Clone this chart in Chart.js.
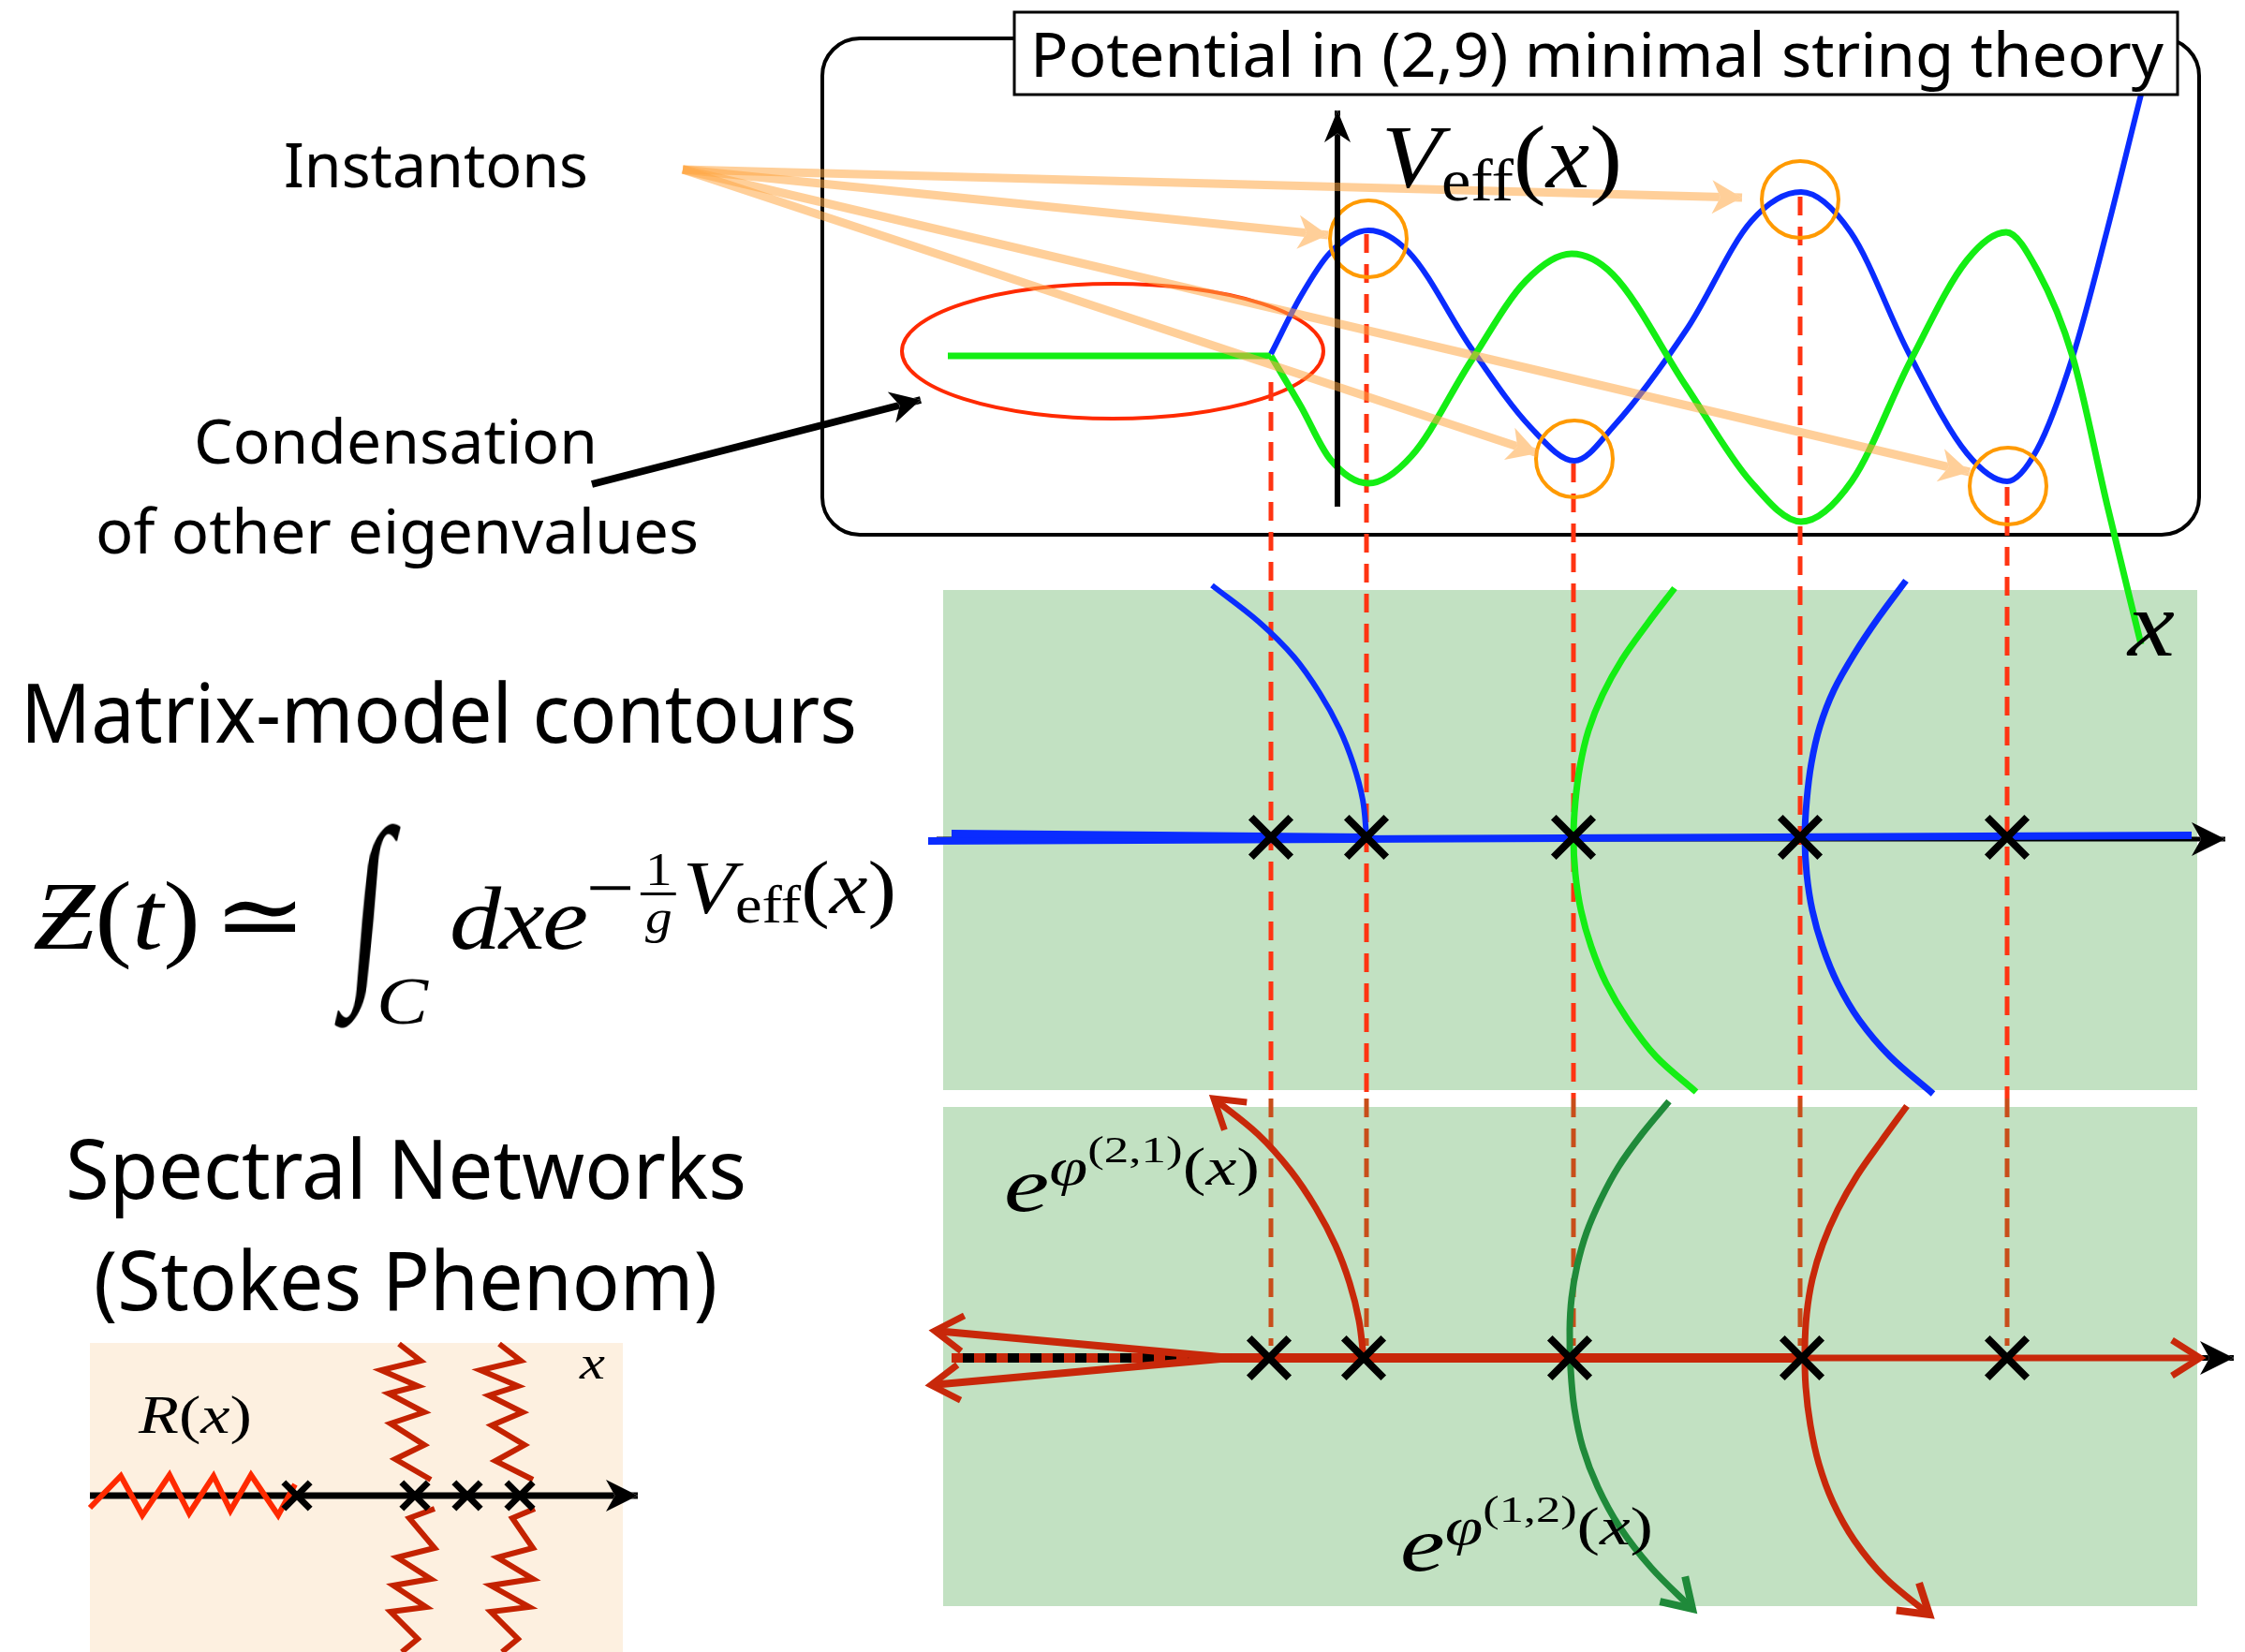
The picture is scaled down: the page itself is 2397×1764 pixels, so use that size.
<!DOCTYPE html>
<html>
<head>
<meta charset="utf-8">
<script src="https://cdn.jsdelivr.net/npm/chart.js@4/dist/chart.umd.min.js"></script>
<style>
html,body{margin:0;padding:0;background:#fff;}
#wrap{position:relative;width:2397px;height:1764px;overflow:hidden;background:#fff;}
#c{position:absolute;left:0;top:0;}
.lbl{position:absolute;top:0;white-space:nowrap;line-height:1;transform-origin:0 0;color:#000;}
.sans{font-family:"Noto Sans","DejaVu Sans",sans-serif;}
.math{font-family:"Liberation Serif","DejaVu Serif",serif;}
.it{font-style:italic;}
.mk{display:inline-block;width:0;height:0;vertical-align:baseline;}
.frac{display:inline-flex;flex-direction:column;align-items:center;line-height:0.95;margin:0 6px;}
.frac .num{border-bottom:3px solid #000;padding:0 4px;}
.intg{display:inline-block;transform-origin:50% 65%;}
</style>
</head>
<body>
<div id="wrap"><canvas id="c" width="2397" height="1764"></canvas></div>
<script>
// ================= DATA (diagram units = reference pixels, y grows downward) =================
// eigenvalue saddles (positions along the real x axis)
const saddleX      = [1357, 1459, 1680, 1922, 2143];
const guideTopY    = [408, 250, 495, 210, 520];     // where each dashed guide leaves V_eff
const guideSplitY  = 1173;
const guideEndY    = 1437;

// effective potential panel
const greenFlat       = [[1012,380],[1357,380]];
const bluePotential   = [[1357,378],[1389,316],[1420,270],[1461,246],[1504,269],[1571,372],[1634,456],[1681,492],[1723,455],[1802,350],[1870,236],[1923,205],[1976,248],[2038,377],[2100,484],[2143,514],[2175,480],[2213,381],[2250,245],[2286,101],[2298,55]];
const greenPotential  = [[1357,380],[1389,434],[1420,490],[1461,516],[1507,487],[1571,385],[1629,300],[1678,271],[1722,293],[1800,412],[1869,514],[1923,557],[1977,514],[2040,385],[2100,278],[2142,248],[2175,288],[2213,381],[2250,540],[2286,688]];
const instantonCircles = [[1461,255],[1681,490],[1922,213],[2144,519]];
const instantonSource  = [729,181];
const instantonTips    = [[1860,211],[1418,251],[1642,484],[2103,504]];
const condensationArrow = [[632,517],[983,427]];
const vAxis            = [[1428,541],[1428,118]];
const eigenCloud       = [1188,375,225,72];          // ellipse: cx, cy, rx, ry
const potFrame         = [878,41,2348,571];
const titleFrame       = [1083,13,2325,101];

// matrix-model contour panel
const contourPanel     = [[1007,630],[2346,630]];  const contourPanelBottom = 1164;
const contourAxis      = [[1000,896],[2376,896]];
const contourBlueAxis  = [[991,898],[2340,892]];
const contourBlueAxisL = [[1016,890],[1459,894]];
const contourBlueLeft  = [[1459,892],[1455,854],[1445,816],[1430,778],[1409,740],[1382,702],[1344,664],[1294,625]];
const contourGreen     = [[1788,628],[1759,666],[1732,704],[1711,742],[1696,780],[1687,818],[1682,856],[1680,894],[1682,933],[1688,972],[1699,1011],[1715,1050],[1738,1089],[1768,1128],[1811,1166]];
const contourBlueRight = [[2035,620],[2006,659],[1980,698],[1958,737],[1943,776],[1934,815],[1929,855],[1927,894],[1929,933],[1935,972],[1946,1011],[1962,1050],[1985,1089],[2018,1128],[2064,1168]];
const contourCrossY    = 894;

// spectral network panel
const stokesPanel      = [[1007,1182],[2346,1182]];  const stokesPanelBottom = 1715;
const stokesAxis       = [[1016,1450],[2385,1450]];
const stokesCut        = [[1016,1450],[1314,1450]];
const stokesRedA       = [[1314,1450],[1924,1450]];
const stokesRedB       = [[1924,1450],[2349,1450]];
const stokesWedgeUp    = [[1314,1450],[998,1421]];
const stokesWedgeDown  = [[1314,1450],[994,1479]];
const stokesRed21      = [[1456,1450],[1451,1410],[1441,1370],[1426,1330],[1405,1290],[1378,1250],[1343,1211],[1296,1173]];
const stokesGreen12    = [[1782,1176],[1753,1211],[1728,1246],[1709,1281],[1694,1316],[1684,1351],[1678,1386],[1676,1420],[1677,1462],[1681,1504],[1690,1546],[1706,1588],[1729,1630],[1763,1674],[1807,1718]];
const stokesRedRight   = [[2036,1181],[2009,1218],[1983,1255],[1962,1292],[1946,1329],[1935,1366],[1929,1403],[1927,1440],[1928,1481],[1933,1522],[1942,1563],[1957,1604],[1980,1645],[2013,1685],[2060,1724]];
const stokesCrossX     = [1355, 1456, 1676, 1924, 2143];
const stokesCrossY     = 1450;

// resolvent panel R(x)
const rPanel           = [[96,1434],[665,1434]];  const rPanelBottom = 1764;
const rAxis            = [[96,1597],[681,1597]];
const rZigzag          = [[96,1610],[129,1576],[152,1618],[181,1575],[202,1616],[228,1576],[246,1613],[268,1575],[297,1618],[315,1585]];
const rCut1Up          = [[426,1435],[449,1453],[407,1463],[446,1480],[415,1488],[453,1508],[417,1520],[453,1543],[422,1558],[460,1580]];
const rCut1Down        = [[464,1611],[437,1621],[464,1653],[424,1663],[460,1686],[420,1693],[455,1716],[417,1721],[446,1750],[429,1764]];
const rCut2Up          = [[533,1435],[556,1453],[513,1463],[553,1480],[522,1490],[558,1508],[525,1522],[560,1543],[529,1560],[569,1580]];
const rCut2Down        = [[571,1611],[547,1621],[569,1653],[531,1663],[569,1686],[524,1693],[565,1716],[524,1721],[553,1750],[536,1764]];
const rCrossX          = [317, 443, 499, 555];
const rCrossY          = 1597;

// ================= colours =================
const C = {
  blue:'#0a2cff', green:'#14ee14', orange:'#ff9a00', red:'#ff2a00', guide:'#ff3412', guideDark:'#c84e1a',
  panel:'#c2e1c2', beige:'#fdf0e0', dred:'#c8280a', dgreen:'#1f8a3a', zig:'#c42200',
  instanton:'rgba(255,168,70,0.55)'
};

// ================= dataset helpers =================
const P = a => a.map(([x,y]) => ({x, y}));
function line(data, color, width, extra) {
  return Object.assign({type:'line', data:P(data), borderColor:color, borderWidth:width, pointRadius:0,
    fill:false, tension:0, borderCapStyle:'butt', borderJoinStyle:'round', clip:false}, extra || {});
}
function rect(topEdge, bottom, color) {
  return {type:'line', data:P(topEdge), borderColor:'rgba(0,0,0,0)', borderWidth:0, pointRadius:0,
    backgroundColor:color, fill:{value:bottom}, tension:0, clip:false};
}
function marks(xs, y, r, w, color) {
  return {type:'line', showLine:false, data:xs.map(x => ({x, y})), pointStyle:'crossRot', pointRadius:r,
    pointBorderWidth:w, pointBorderColor:color || '#000', pointBackgroundColor:'rgba(0,0,0,0)', clip:false};
}

const datasets = [];
// panels
datasets.push(rect(contourPanel, contourPanelBottom, C.panel));
datasets.push(rect(stokesPanel, stokesPanelBottom, C.panel));
datasets.push(rect(rPanel, rPanelBottom, C.beige));
// dashed guides
saddleX.forEach((x, i) => {
  datasets.push(line([[x, guideTopY[i]], [x, guideSplitY]], C.guide, 5, {borderDash:[20,12]}));
  datasets.push(line([[x, guideSplitY], [x, guideEndY]], C.guideDark, 5, {borderDash:[20,12]}));
});
// potential
datasets.push(line(greenFlat, C.green, 7));
datasets.push(line(bluePotential, C.blue, 6, {cubicInterpolationMode:'monotone'}));
datasets.push(line(greenPotential, C.green, 7, {cubicInterpolationMode:'monotone'}));
datasets.push({type:'line', showLine:false, data:P(instantonCircles), pointStyle:'circle', pointRadius:41,
  pointBorderWidth:4, pointBorderColor:C.orange, pointBackgroundColor:'rgba(0,0,0,0)', clip:false});
datasets.push(line(vAxis, '#000', 6, {head:'stealth', headLen:34, headHalf:14}));
instantonTips.forEach(t => datasets.push(line([instantonSource, t], C.instanton, 9,
  {head:'stealth', headLen:32, headHalf:18})));
datasets.push(line(condensationArrow, '#000', 8, {head:'stealth', headLen:32, headHalf:17}));
// contour panel
datasets.push(line(contourBlueLeft, C.blue, 6, {tension:0.35}));
datasets.push(line(contourGreen, C.green, 7, {tension:0.35}));
datasets.push(line(contourBlueRight, C.blue, 7, {tension:0.35}));
datasets.push(line(contourAxis, '#000', 5, {head:'stealth', headLen:36, headHalf:18}));
datasets.push(line(contourBlueAxis, C.blue, 8));
datasets.push(line(contourBlueAxisL, C.blue, 8));
datasets.push(marks(saddleX, contourCrossY, 30, 8));
// spectral network panel
datasets.push(line(stokesAxis, '#000', 6, {head:'stealth', headLen:36, headHalf:18}));
datasets.push(line(stokesCut, '#000', 10));
datasets.push(line(stokesCut, C.dred, 10, {borderDash:[12,12]}));
datasets.push(line(stokesRedA, C.dred, 10));
datasets.push(line(stokesRedB, C.dred, 7, {head:'open', headLen:30, headHalf:19, headWidth:7}));
datasets.push(line(stokesWedgeUp, C.dred, 8, {head:'open', headLen:30, headHalf:19, headWidth:7}));
datasets.push(line(stokesWedgeDown, C.dred, 8, {head:'open', headLen:30, headHalf:19, headWidth:7}));
datasets.push(line(stokesRed21, C.dred, 7, {tension:0.35, head:'open', headLen:30, headHalf:19, headWidth:7}));
datasets.push(line(stokesGreen12, C.dgreen, 7, {tension:0.35, head:'open', headLen:30, headHalf:19, headWidth:8}));
datasets.push(line(stokesRedRight, C.dred, 7, {tension:0.35, head:'open', headLen:30, headHalf:19, headWidth:8}));
datasets.push(marks(stokesCrossX, stokesCrossY, 30, 8));
// resolvent panel
datasets.push(line(rAxis, '#000', 7, {head:'stealth', headLen:34, headHalf:17}));
datasets.push(line(rZigzag, C.red, 6, {borderJoinStyle:'miter'}));
[rCut1Up, rCut1Down, rCut2Up, rCut2Down].forEach(z => datasets.push(line(z, C.zig, 6, {borderJoinStyle:'miter'})));
datasets.push(marks(rCrossX, rCrossY, 20, 7));
// draw order: first = bottom
datasets.forEach((d, i) => { d.order = -i; });

// ================= decoration plugin (frames, ellipse, arrow heads) =================
function headGeom(meta, ds) {
  const pts = meta.data, n = pts.length;
  const a = pts[n - 2], b = pts[n - 1];
  const dx = b.x - a.x, dy = b.y - a.y, L = Math.hypot(dx, dy) || 1;
  const ux = dx / L, uy = dy / L, nx = -uy, ny = ux;
  const len = ds.headLen, hw = ds.headHalf;
  return {
    tip: [b.x, b.y],
    left: [b.x - ux * len + nx * hw, b.y - uy * len + ny * hw],
    right: [b.x - ux * len - nx * hw, b.y - uy * len - ny * hw],
    notch: [b.x - ux * len * 0.72, b.y - uy * len * 0.72]
  };
}
function rr(ctx, x, y, w, h, r) {
  ctx.beginPath();
  ctx.moveTo(x + r, y); ctx.arcTo(x + w, y, x + w, y + h, r); ctx.arcTo(x + w, y + h, x, y + h, r);
  ctx.arcTo(x, y + h, x, y, r); ctx.arcTo(x, y, x + w, y, r); ctx.closePath();
}
const clipped = new Set();
const decor = {
  id: 'decor',
  beforeDatasetsDraw(chart) {
    const ctx = chart.ctx, sx = chart.scales.x, sy = chart.scales.y;
    const X = v => sx.getPixelForValue(v), Y = v => sy.getPixelForValue(v);
    ctx.save();
    ctx.strokeStyle = '#000'; ctx.lineWidth = 4;
    rr(ctx, X(potFrame[0]), Y(potFrame[1]), X(potFrame[2]) - X(potFrame[0]), Y(potFrame[3]) - Y(potFrame[1]), 40);
    ctx.stroke();
    const [cx, cy, rx, ry] = eigenCloud;
    ctx.strokeStyle = C.red; ctx.lineWidth = 4;
    ctx.beginPath();
    ctx.ellipse(X(cx), Y(cy), Math.abs(X(cx + rx) - X(cx)), Math.abs(Y(cy + ry) - Y(cy)), 0, 0, Math.PI * 2);
    ctx.stroke();
    ctx.restore();
  },
  beforeDatasetDraw(chart, args) {
    const ds = chart.data.datasets[args.index];
    if (ds.head !== 'stealth') return;
    const g = headGeom(args.meta, ds), ctx = chart.ctx;
    ctx.save();
    ctx.beginPath();
    ctx.rect(0, 0, chart.width, chart.height);
    ctx.moveTo(...g.tip); ctx.lineTo(...g.left); ctx.lineTo(...g.notch); ctx.lineTo(...g.right); ctx.closePath();
    ctx.clip('evenodd');
    clipped.add(args.index);
  },
  afterDatasetDraw(chart, args) {
    const ctx = chart.ctx;
    if (clipped.has(args.index)) { ctx.restore(); clipped.delete(args.index); }
    const ds = chart.data.datasets[args.index];
    if (!ds.head) return;
    const g = headGeom(args.meta, ds);
    ctx.save();
    if (ds.head === 'stealth') {
      ctx.fillStyle = ds.borderColor;
      ctx.beginPath();
      ctx.moveTo(...g.tip); ctx.lineTo(...g.left); ctx.lineTo(...g.notch); ctx.lineTo(...g.right); ctx.closePath();
      ctx.fill();
    } else {
      ctx.strokeStyle = ds.borderColor; ctx.lineWidth = ds.headWidth || ds.borderWidth;
      ctx.lineJoin = 'miter'; ctx.lineCap = 'butt';
      ctx.beginPath(); ctx.moveTo(...g.left); ctx.lineTo(...g.tip); ctx.lineTo(...g.right); ctx.stroke();
    }
    ctx.restore();
  },
  afterDatasetsDraw(chart) {
    const ctx = chart.ctx, sx = chart.scales.x, sy = chart.scales.y;
    const X = v => sx.getPixelForValue(v), Y = v => sy.getPixelForValue(v);
    ctx.save();
    const x0 = X(titleFrame[0]), y0 = Y(titleFrame[1]), w = X(titleFrame[2]) - x0, h = Y(titleFrame[3]) - y0;
    ctx.fillStyle = '#fff'; ctx.fillRect(x0, y0, w, h);
    ctx.strokeStyle = '#000'; ctx.lineWidth = 3; ctx.strokeRect(x0, y0, w, h);
    ctx.restore();
  }
};

new Chart(document.getElementById('c'), {
  type: 'line',
  data: {datasets},
  options: {
    responsive: false, animation: false, events: [],
    layout: {padding: 0, autoPadding: false},
    plugins: {legend: {display: false}, tooltip: {enabled: false}, title: {display: false}},
    scales: {
      x: {type: 'linear', min: 0, max: 2397, display: false, bounds: 'data', grace: 0},
      y: {type: 'linear', min: 0, max: 1764, reverse: true, display: false, bounds: 'data', grace: 0}
    }
  },
  plugins: [decor]
});

// ================= text labels (real HTML text) =================
const labelSpecs = [
  {cls:'sans', size:66, left:303,  base:200,  w:325,  html:'Instantons'},
  {cls:'sans', size:66, left:207,  base:495,  w:431,  html:'Condensation'},
  {cls:'sans', size:66, left:102,  base:591,  w:644,  html:'of other eigenvalues'},
  {cls:'sans', size:66, left:1100, base:82,   w:1210, html:'Potential in (2,9) minimal string theory'},
  {cls:'sans', size:88, left:22,   base:793,  w:893,  html:'Matrix-model contours'},
  {cls:'sans', size:88, left:70,   base:1280, w:727,  html:'Spectral Networks'},
  {cls:'sans', size:88, left:100,  base:1399, w:666,  html:'(Stokes Phenom)'},
  {cls:'math', size:95, left:1475, base:200,  w:257,
    html:'<span class="it">V</span><span style="font-size:64px;vertical-align:-14px">eff</span>(<span class="it">x</span>)'},
  {cls:'math', size:100, left:2272, base:700, w:50, html:'<span class="it">x</span>'},
  {cls:'math', size:58, left:148, base:1530, w:121, html:'<span class="it">R</span>(<span class="it">x</span>)'},
  {cls:'math', size:50, left:619, base:1472, w:27, html:'<span class="it">x</span>'},
  {cls:'math', size:104, left:35, base:1013, w:922,
    html:'<span class="it">Ƶ</span>(<span class="it">t</span>)<span style="margin:0 10px 0 12px">≃</span><span class="intg" style="font-size:120px;transform:scaleY(1.85) skewX(-8deg);vertical-align:-6px;margin-left:30px">∫</span><span class="it" style="font-size:72px;vertical-align:-80px;margin-left:-8px">C</span><span class="it" style="font-size:96px;letter-spacing:-2px;margin-left:20px">dxe</span><span style="font-size:80px;vertical-align:38px">−<span class="frac" style="font-size:50px;vertical-align:30px"><span class="num">1</span><span class="it">g</span></span><span class="it">V</span><span style="font-size:56px;vertical-align:-10px">eff</span>(<span class="it">x</span>)</span>'},
  {cls:'math', size:82, left:1072, base:1293, w:273,
    html:'<span class="it">e</span><span style="font-size:56px;vertical-align:28px"><span class="it">φ</span><span style="font-size:40px;vertical-align:24px">(2,1)</span>(<span class="it">x</span>)</span>'},
  {cls:'math', size:82, left:1495, base:1677, w:270,
    html:'<span class="it">e</span><span style="font-size:56px;vertical-align:28px"><span class="it">φ</span><span style="font-size:40px;vertical-align:24px">(1,2)</span>(<span class="it">x</span>)</span>'}
];
const wrap = document.getElementById('wrap');
labelSpecs.forEach(L => {
  const d = document.createElement('div');
  d.className = 'lbl ' + L.cls;
  d.style.fontSize = L.size + 'px';
  d.style.left = L.left + 'px';
  d.innerHTML = '<span class="mk"></span>' + L.html;
  wrap.appendChild(d);
  L.el = d;
});
function placeLabels() {
  labelSpecs.forEach(L => {
    const el = L.el;
    el.style.transform = 'none';
    el.style.top = '0px';
    const r = el.getBoundingClientRect();
    const m = el.querySelector('.mk').getBoundingClientRect();
    const off = m.bottom - r.top;
    el.style.top = (L.base - off) + 'px';
    el.style.transform = 'scaleX(' + (L.w / r.width) + ')';
  });
}
placeLabels();
if (document.fonts && document.fonts.ready) document.fonts.ready.then(placeLabels);
</script>
</body>
</html>
